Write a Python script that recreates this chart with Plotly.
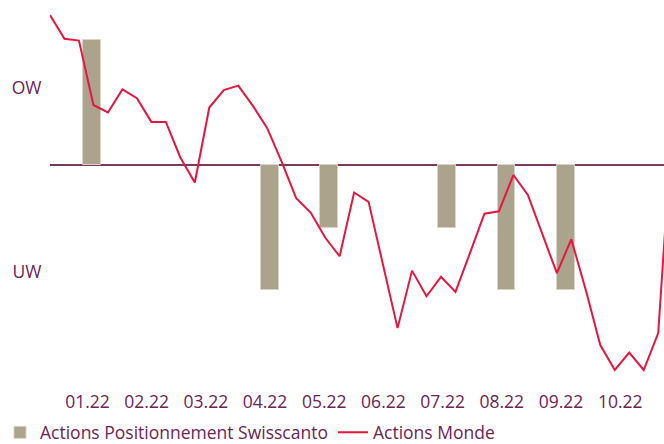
import plotly.graph_objects as go

# Month tick labels (month index 0..9)
months = ["01.22", "02.22", "03.22", "04.22", "05.22", "06.22", "07.22", "08.22", "09.22", "10.22"]

# Positioning (Overweight +, Underweight -) per month index
bar_months = [0, 3, 4, 6, 7, 8]
bar_values = [2, -2, -1, -1, -2, -2]

# Actions Monde, weekly observations (relative scale)
monde = [2.40, 2.02, 1.99, 0.96, 0.84, 1.21, 1.07, 0.69, 0.69, 0.12,
         -0.28, 0.92, 1.20, 1.27, 0.95, 0.59, 0.05, -0.53, -0.76, -1.16,
         -1.46, -0.44, -0.59, -1.60, -2.61, -1.69, -2.10, -1.79, -2.03, -1.41,
         -0.78, -0.74, -0.16, -0.48, -1.09, -1.73, -1.19, -2.00, -2.88, -3.28,
         -3.00, -3.28, -2.69, 0.77]
weeks = list(range(len(monde)))

ylabels = ["OW", "UW"]
ylabel_pos = [1.23, -1.71]

TXT = "#6b2456"
FONT = "Open Sans"
FS = 17.5

fig = go.Figure()
fig.add_trace(go.Bar(
    x=bar_months, y=bar_values, name="Actions Positionnement Swisscanto",
    marker=dict(color="#aba38c", line=dict(color="#d9d4c8", width=1)),
    width=0.30, offset=-0.07, xaxis="x", yaxis="y",
))
fig.add_trace(go.Scatter(
    x=weeks, y=monde, name="Actions Monde", mode="lines",
    line=dict(color="#e5173f", width=2), xaxis="x2", yaxis="y",
))

fig.update_layout(
    width=664, height=444,
    margin=dict(l=50, r=0, t=0, b=59, autoexpand=False),
    paper_bgcolor="white", plot_bgcolor="white",
    font=dict(family=FONT, size=FS, color=TXT),
    showlegend=True,
    legend=dict(orientation="h", xref="container", x=-0.019, xanchor="left",
                yref="container", y=0.026, yanchor="middle",
                font=dict(size=FS, color=TXT), traceorder="normal",
                bgcolor="rgba(0,0,0,0)"),
    bargap=0,
    xaxis=dict(range=[-0.633, 9.74], tickvals=list(range(len(months))), ticktext=months,
               showgrid=False, zeroline=False, showline=False,
               ticks="outside", ticklen=1, tickcolor="rgba(0,0,0,0)",
               tickfont=dict(size=FS, color=TXT)),
    xaxis2=dict(range=[0, 42.40], overlaying="x", visible=False),
    yaxis=dict(range=[-3.52, 2.64], tickvals=ylabel_pos, ticktext=ylabels,
               showgrid=False, zeroline=True, zerolinecolor="#7b3a5f", zerolinewidth=1.5,
               showline=False, ticks="outside", ticklen=4, tickcolor="rgba(0,0,0,0)",
               tickfont=dict(size=FS, color=TXT)),
)

fig.write_html("out.html")
